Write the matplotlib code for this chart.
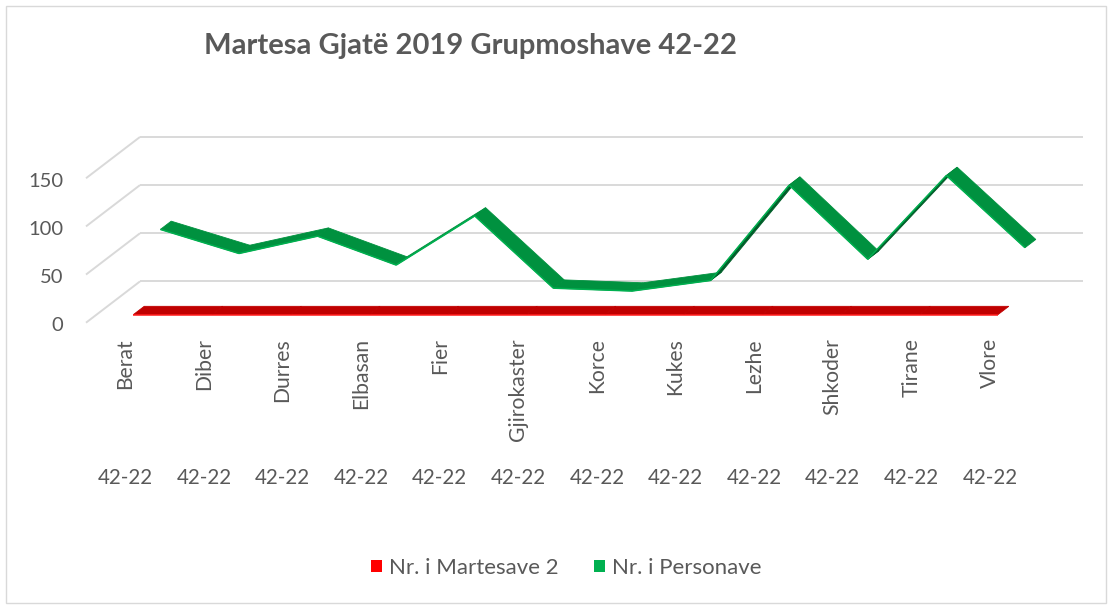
import matplotlib
matplotlib.use("Agg")
import matplotlib.pyplot as plt
from matplotlib.patches import Patch, Rectangle

# ---------------- data ----------------
categories = ["Berat", "Diber", "Durres", "Elbasan", "Fier", "Gjirokaster",
              "Korce", "Kukes", "Lezhe", "Shkoder", "Tirane", "Vlore"]
group_labels = ["42-22"] * 12
series_names = ["Nr. i Martesave 2", "Nr. i Personave"]
martesave = [2, 2, 2, 2, 2, 2, 2, 2, 2, 2, 2, 2]
personave = [69, 44, 62, 32, 83, 8, 5, 16, 115, 38, 125, 50]
yticks = [0, 50, 100, 150]
title = "Martesa Gjatë 2019 Grupmoshave 42-22"

# ---------------- layout (pseudo-3D oblique projection) ----------------
W, H = 1113, 607
X0, Y0 = 86.0, 322.7      # pixel position of front-left floor corner
SX, SY = 78.6, 0.963      # pixels per category / per value unit
DX = 54.0 / SX            # depth offset (category units)
DY = 41.3 / SY            # depth offset (value units)

FONT = ["Lato", "DejaVu Sans"]
plt.rcParams["font.family"] = FONT
TXT = "#595959"

fig = plt.figure(figsize=(W / 100, H / 100), dpi=100)
ax = fig.add_axes([0, 0, 1, 1])
ax.set_xlim(-X0 / SX, (W - X0) / SX)
ax.set_ylim((Y0 - H) / SY, Y0 / SY)
ax.axis("off")

n = len(categories)
grid_c = "#D9D9D9"
for v in yticks:
    ax.plot([0, DX], [v, v + DY], color=grid_c, lw=1.4, solid_capstyle="butt", zorder=1)
    ax.plot([DX, n + DX], [v + DY, v + DY], color=grid_c, lw=1.4, solid_capstyle="butt", zorder=1)
    ax.text(-0.29, v - 3, str(v), ha="right", va="center", fontsize=14.5, color=TXT)


def ribbon(values, f1, f2, top_c, bot_c, edge_c, z):
    xs = [i + 0.5 for i in range(len(values))]
    for i in range(len(values) - 1):
        a, b = values[i], values[i + 1]
        fr = [(xs[i] + f1 * DX, a + f1 * DY), (xs[i + 1] + f1 * DX, b + f1 * DY)]
        bk = [(xs[i + 1] + f2 * DX, b + f2 * DY), (xs[i] + f2 * DX, a + f2 * DY)]
        # which face is visible (pixel-space cross product)
        segx, segy = SX, (b - a) * SY
        dpx, dpy = (f2 - f1) * 54.0, (f2 - f1) * 41.3
        cross = segx * dpy - segy * dpx
        col = top_c if cross > 0 else bot_c
        poly = fr + bk
        ax.fill([p[0] for p in poly], [p[1] for p in poly], color=col,
                lw=0.6, ec=col, zorder=z)
        ax.plot([fr[0][0], fr[1][0]], [fr[0][1], fr[1][1]], color=edge_c,
                lw=1.1, solid_capstyle="butt", zorder=z + 0.1)


ribbon(personave, 0.65, 0.85, "#00913F", "#005E29", "#00B050", 3)
ribbon(martesave, 0.15, 0.35, "#C00000", "#900000", "#FF1A1A", 5)

# category labels
for i, (c, g) in enumerate(zip(categories, group_labels)):
    ax.text(i + 0.5, (Y0 - 338) / SY, c, rotation=90, ha="center", va="top",
            fontsize=15.2, color=TXT)
    ax.text(i + 0.5, (Y0 - 478) / SY, g, ha="center", va="center",
            fontsize=14.8, color=TXT)

fig.text(470 / W, 1 - 46 / H, title, ha="center", va="center",
         fontsize=21, fontweight="bold", color=TXT)

handles = [Patch(facecolor="#FF0000", edgecolor="none"),
           Patch(facecolor="#00B050", edgecolor="none")]
fig.legend(handles, series_names, loc="center", bbox_to_anchor=(566 / W, 1 - 568 / H),
           ncol=2, frameon=False, handlelength=0.5, handleheight=0.5,
           handletextpad=0.3, columnspacing=1.6, fontsize=16, labelcolor=TXT)

fig.add_artist(Rectangle((6 / W, 1 - 603 / H), 1100 / W, 597 / H,
                         transform=fig.transFigure, fill=False,
                         edgecolor="#D9D9D9", lw=1.0))

fig.savefig("out.png", dpi=100, facecolor="white")
